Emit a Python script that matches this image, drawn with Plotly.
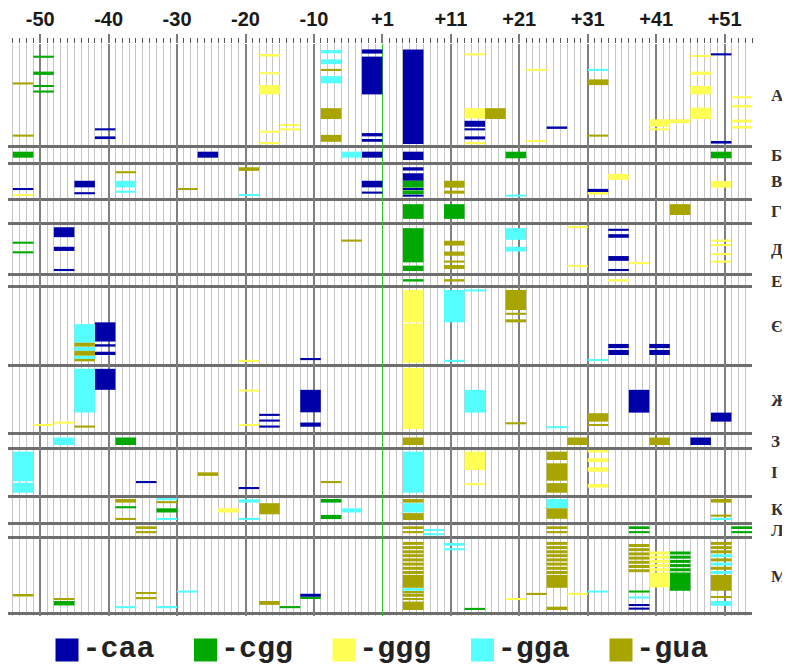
import plotly.graph_objects as go

# ---------------- data ----------------
# x: position on the axis (unit 0 = "+1"; there is no position 0 in the sequence)
# rows: sequence rows counted from the top (fractional = partial row heights)
MOTIF_LEN = 3

tick_vals = [-50, -40, -30, -20, -10, 0, 10, 20, 30, 40, 50]
tick_text = ["-50", "-40", "-30", "-20", "-10", "+1", "+11", "+21", "+31", "+41", "+51"]

group_labels = ["А", "Б", "В", "Г", "Д", "Е", "Є", "Ж", "З", "І", "К", "Л", "М"]
group_bounds = [0, 34.3, 39.7, 52, 59.7, 77, 81, 107.3, 130, 134.7, 150.7, 159.7, 164.7, 190]

motif_names = ["caa", "cgg", "ggg", "gga", "gua"]
motif_colors = ["#0000a8", "#00a800", "#ffff55", "#55ffff", "#a8a400"]

caa_start = [-42, -42, -3, -3, -3, -3, 3, 12, 12, 12, 24, 48, 48,
             -27, -3, 3,
             -54, -45, -45, -3, -3, 3, 3, 3, 3, 30,
             -48, -48, -48, 33, 33, 33, 33,
             33, 33, 39, 39, -42, -42, -42, -12,
             -42, -18, -18, -18, -12, -12, 36, 48,
             45,
             -36, -21,
             -12, 36, 36]
caa_top = [28.1, 30.8, 1.8, 4.2, 29.7, 32.0, 1.8, 25.6, 28.1, 30.8, 27.5, 3.1, 32.6,
           35.9, 35.9, 35.9,
           48.0, 45.6, 49.4, 45.6, 49.2, 41.1, 43.1, 48.0, 50.2, 48.3,
           61.1, 67.6, 75.0, 61.6, 63.4, 70.7, 75.0,
           100.0, 102.0, 100.0, 102.0, 92.8, 100.1, 102.6, 104.8,
           108.3, 123.3, 125.2, 127.2, 115.3, 126.2, 115.3, 122.9,
           131.2,
           145.8, 147.8,
           183.3, 186.8, 187.9]
caa_bottom = [28.8, 31.7, 3.2, 16.8, 30.8, 32.6, 33.3, 27.6, 28.8, 31.8, 28.3, 3.8, 33.2,
              37.9, 37.9, 38.7,
              48.7, 47.8, 50.1, 47.8, 49.9, 42.2, 45.6, 48.7, 50.9, 49.6,
              64.4, 69.0, 75.7, 62.3, 64.6, 72.3, 75.7,
              101.4, 103.7, 101.4, 103.7, 99.2, 100.9, 103.7, 105.4,
              115.3, 124.0, 125.9, 127.9, 122.8, 127.6, 122.9, 125.9,
              133.7,
              146.4, 148.4,
              184.3, 187.4, 188.6]

cgg_start = [-51, -51, -51, -51,
             -54, 18, 48,
             3, 3,
             3, 9,
             -54, -54, 3, 3,
             3,
             -39,
             -39, -33, -9, -9,
             36, 36, 51, 51,
             -48, -15, -12, 12, 36, 42, 42, 42, 42, 42, 42]
cgg_top = [3.9, 9.2, 13.7, 15.5,
           35.9, 35.9, 35.9,
           45.6, 48.8,
           53.4, 53.4,
           65.9, 69.1, 61.4, 73.9,
           78.4,
           131.2,
           154.1, 154.8, 151.7, 157.0,
           160.8, 162.4, 160.8, 162.4,
           185.7, 187.4, 184.4, 188.0, 182.2, 169.2, 170.6, 172.0, 173.4, 174.8, 176.2]
cgg_bottom = [4.6, 10.3, 14.3, 16.2,
              37.9, 38.1, 38.1,
              47.9, 50.1,
              58.3, 58.3,
              66.6, 69.8, 72.8, 75.7,
              79.2,
              133.7,
              154.8, 156.2, 152.9, 158.4,
              161.7, 163.1, 161.7, 163.1,
              187.2, 188.1, 185.0, 188.7, 182.9, 170.2, 171.6, 173.0, 174.4, 175.8, 182.3]

ggg_start = [-18, -18, -18, -18, -18, -15, -15, 12, 12, 12, 21, 21, 39, 39, 42, 45, 45, 45, 45, 51, 51, 51, 51,
             -54, 30, 33, 48,
             27, 27, 36, 48, 48, 48, 48,
             33,
             3, 3, -21,
             -51, -48, -21, -21, 3,
             12, 12, 30, 30, 30, 30,
             -24,
             18, 27, 39, 39, 39, 39, 39, 39]
ggg_top = [3.6, 9.4, 13.7, 28.9, 32.8, 26.7, 28.1, 3.1, 21.4, 32.8, 8.3, 32.0, 25.1, 28.1, 25.1, 3.7, 9.2, 14.0, 21.2, 17.4, 20.6, 25.2, 27.6,
           50.0, 49.6, 43.3, 45.7,
           60.8, 73.7, 72.8, 65.2, 66.7, 69.8, 72.2,
           78.4,
           82.0, 93.2, 105.3,
           126.7, 125.9, 115.2, 126.7, 108.0,
           135.9, 146.4, 135.6, 138.1, 141.1, 146.7,
           154.8,
           184.8, 183.0, 169.2, 170.6, 172.0, 173.4, 174.8, 176.2]
ggg_bottom = [4.2, 10.1, 16.8, 29.6, 33.4, 27.3, 28.8, 3.8, 24.8, 33.4, 9.0, 32.7, 27.6, 28.8, 26.4, 4.3, 10.3, 16.8, 25.0, 18.1, 21.2, 26.2, 28.2,
              50.7, 50.2, 45.3, 47.9,
              61.4, 74.3, 73.4, 65.9, 67.3, 70.4, 72.9,
              79.2,
              92.8, 106.3, 106.0,
              127.3, 126.6, 115.9, 127.3, 128.4,
              142.0, 147.1, 136.2, 139.4, 142.6, 147.9,
              156.2,
              185.4, 183.7, 170.2, 171.6, 173.0, 174.4, 175.8, 181.2]

gga_start = [-9, -9, -9, 30,
             -6,
             -39, -39, -21, 18,
             18, 18,
             9, 12, 9, 30, -45, -45, -45,
             -45, 12, 24,
             -48,
             -54, -54, 3,
             -33, -33, -21, -21, -6, 3, 24, 48,
             6, 6,
             -39, -33, -30, 3, 9, 9, 30, 36, 48, 48, 48, 48]
gga_top = [2.0, 5.1, 10.7, 8.3,
           35.9,
           45.6, 48.9, 50.0, 50.2,
           61.4, 67.6,
           82.0, 81.8, 105.3, 105.0, 93.4, 101.0, 103.9,
           108.3, 115.3, 127.4,
           131.2,
           135.9, 146.3, 135.9,
           151.4, 158.0, 151.8, 158.0, 154.8, 153.1, 151.7, 158.0,
           161.7, 163.1,
           187.4, 187.4, 182.2, 181.4, 166.7, 168.1, 182.2, 184.2, 170.1, 172.9, 175.7, 185.7]
gga_bottom = [3.1, 6.7, 13.1, 9.0,
              37.9,
              47.8, 49.6, 50.7, 50.9,
              65.3, 69.2,
              92.8, 82.5, 106.0, 105.7, 99.6, 102.3, 105.0,
              122.9, 122.9, 128.1,
              133.7,
              145.8, 149.6, 149.6,
              152.1, 158.7, 152.9, 158.7, 156.2, 156.2, 154.8, 158.7,
              162.3, 163.8,
              188.1, 188.1, 182.9, 182.3, 167.3, 168.8, 182.9, 184.9, 171.1, 173.9, 176.7, 187.3]

gua_start = [-54, -54, -9, -9, -9, 15, 30, 30,
             -39, -30, -21, 9, 9,
             42,
             -6, 9, 9, 9, 9,
             9,
             18, 18, 18, -45, -45, -45,
             -45, 18, 30, 30,
             3, 27, 39,
             -27, -9, 24, 24, 24,
             -39, -39, -33, -18, 3, 3, 24, 48, 48,
             -36, -36, 3, 3, 24, 24,
             -54, -48, -36, -36, -18, 21,
             3, 3, 3, 3, 3, 3, 3, 3, 3, 3, 3, 3, 3,
             24, 24, 24, 24, 24, 24, 24, 24, 24, 24,
             36, 36, 36, 36, 36, 36, 36,
             48, 48, 48, 48, 48, 48, 48]
gua_top = [12.8, 30.2, 8.3, 21.4, 30.3, 21.4, 11.8, 30.2,
           42.4, 48.0, 41.1, 45.6, 48.9,
           53.4,
           65.2, 65.6, 69.2, 72.2, 73.7,
           78.4,
           82.0, 89.6, 91.8, 99.6, 102.3, 105.0,
           127.2, 126.1, 123.1, 126.7,
           131.2, 131.2, 131.2,
           142.8, 145.8, 135.9, 139.8, 146.4,
           151.7, 158.0, 152.4, 153.1, 151.7, 156.4, 154.8, 151.7, 156.9,
           160.8, 162.4, 160.8, 162.4, 160.8, 162.4,
           183.6, 184.8, 182.8, 184.4, 185.7, 183.0,
           166.0, 167.4, 168.8, 170.1, 171.5, 172.9, 174.3, 175.7, 177.0, 182.6, 183.7, 184.8, 185.9,
           166.0, 167.4, 168.8, 170.1, 171.5, 172.9, 174.3, 175.7, 177.0, 187.6,
           166.7, 168.1, 169.5, 170.9, 172.3, 173.7, 175.1,
           166.0, 167.4, 168.8, 171.5, 174.3, 177.0, 184.1]
gua_bottom = [13.5, 30.9, 9.0, 25.0, 32.6, 25.0, 13.7, 30.9,
              43.1, 48.7, 42.3, 47.9, 49.9,
              57.0,
              65.9, 67.2, 70.6, 72.9, 75.0,
              79.2,
              88.7, 90.3, 92.8, 100.9, 103.9, 105.8,
              127.9, 126.8, 125.9, 127.3,
              133.7, 133.7, 133.7,
              144.0, 146.4, 138.7, 145.6, 149.6,
              152.9, 158.7, 153.1, 156.8, 152.9, 158.7, 158.3, 152.9, 157.6,
              161.7, 163.1, 161.7, 163.1, 161.7, 163.1,
              184.2, 185.4, 183.4, 185.1, 187.0, 183.7,
              167.0, 168.4, 169.8, 171.1, 172.5, 173.9, 175.3, 176.7, 181.3, 183.2, 184.3, 185.4, 188.7,
              167.0, 168.4, 169.8, 171.1, 172.5, 173.9, 175.3, 176.7, 181.3, 188.7,
              167.7, 169.1, 170.5, 171.9, 173.3, 174.7, 176.1,
              167.0, 168.4, 169.8, 172.5, 175.3, 182.3, 184.6]

# ---------------- figure ----------------
series = [
    (caa_start, caa_top, caa_bottom),
    (cgg_start, cgg_top, cgg_bottom),
    (ggg_start, ggg_top, ggg_bottom),
    (gga_start, gga_top, gga_bottom),
    (gua_start, gua_top, gua_bottom),
]

fig = go.Figure()
for name, color, (starts, tops, bottoms) in zip(motif_names, motif_colors, series):
    fig.add_trace(go.Bar(
        orientation="h",
        base=starts,
        x=[MOTIF_LEN] * len(starts),
        y=[(t + b) / 2 for t, b in zip(tops, bottoms)],
        width=[b - t for t, b in zip(tops, bottoms)],
        marker=dict(color=color, line=dict(width=0)),
        name=name, showlegend=False, hoverinfo="skip",
        xaxis="x", yaxis="y",
    ))

# custom legend row
fig.add_trace(go.Scatter(
    x=list(range(len(motif_names))), y=[0] * len(motif_names),
    mode="markers+text",
    marker=dict(symbol="square", size=23, color=motif_colors, line=dict(width=0)),
    text=["-" + m for m in motif_names],
    textposition="middle right",
    textfont=dict(family="Liberation Mono", size=30, color="#222222", weight="bold"),
    cliponaxis=False, hoverinfo="skip", showlegend=False,
    xaxis="x2", yaxis="y2",
))

group_centers = [(a + b) / 2 for a, b in zip(group_bounds[:-1], group_bounds[1:])]

# the page puts the figure 8px in from the top-left corner, so the figure is 8px smaller
fig.update_layout(
    template="none",
    width=782, height=662,
    margin=dict(l=0, r=38, t=36, b=0, pad=0),
    paper_bgcolor="white", plot_bgcolor="white",
    barmode="overlay", showlegend=False,
    xaxis=dict(
        side="top", anchor="y", range=[-54.7, 54], automargin=False,
        tickmode="array", tickvals=tick_vals, ticktext=tick_text,
        ticks="outside", ticklen=9, tickwidth=2, tickcolor="#7a7a7a",
        showgrid=True, gridcolor="#7f7f7f", gridwidth=1.5,
        zeroline=True, zerolinecolor="#2ec42e", zerolinewidth=1.2,
        showline=False,
        tickfont=dict(family="Liberation Sans", size=20, color="#1a1a1a", weight="bold"),
        minor=dict(dtick=1, tick0=0, ticks="outside", ticklen=5, tickwidth=1,
                   tickcolor="#555555", showgrid=True, gridcolor="#c6c6c6", gridwidth=1),
    ),
    yaxis=dict(
        domain=[0.0863, 1], anchor="x", range=[190.7, 0], side="right", automargin=False,
        tickmode="array", tickvals=group_centers, ticktext=group_labels,
        ticks="", ticklabelstandoff=18,
        showgrid=False, zeroline=False, showline=False,
        tickfont=dict(family="Liberation Serif", size=17, color="#333333", weight="bold"),
        minor=dict(tickmode="array", tickvals=group_bounds, showgrid=True,
                   gridcolor="#6e6e6e", gridwidth=2.5, ticks=""),
    ),
    xaxis2=dict(domain=[0, 1], anchor="y2", range=[-0.426, 4.946], visible=False, automargin=False),
    yaxis2=dict(domain=[0, 0.0863], anchor="x2", range=[-1, 1.7], visible=False, automargin=False),
)

fig.write_html("out.html")
